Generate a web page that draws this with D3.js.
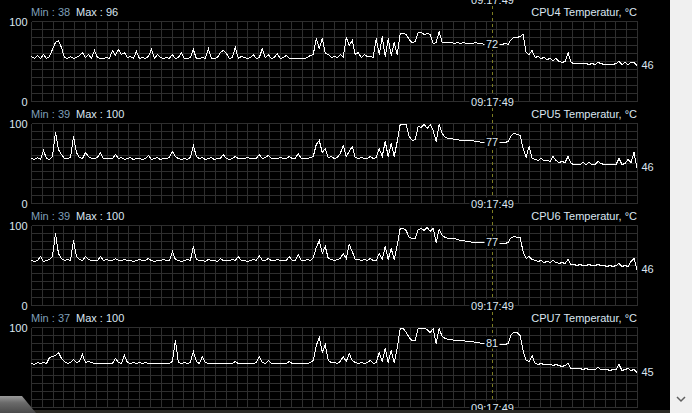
<!DOCTYPE html>
<html><head><meta charset="utf-8">
<script src="https://cdn.jsdelivr.net/npm/d3@7"></script>
<style>
html,body{margin:0;padding:0;background:#000;overflow:hidden}
svg{display:block}
text{font-family:"Liberation Sans",Arial,sans-serif;font-size:11px}
</style></head><body>
<svg id="c" width="692" height="413"></svg>
<script>
const seriesNames = ["CPU4 Temperatur, °C","CPU5 Temperatur, °C","CPU6 Temperatur, °C","CPU7 Temperatur, °C"];
const minValues = [38,39,39,37];
const maxValues = [96,100,100,100];
const cursorValues = [72,77,77,81];
const yTickValues = [0,100];
const timeLabel = "09:17:49";
const cursorIndex = 153.7;

const cpu4 = [
57,54,58,55,60,54,57,66,74,77,
68,56,55,57,55,56,58,62,56,60,
55,64,56,55,55,56,55,65,58,66,
60,62,56,57,55,63,55,56,55,57,
66,55,60,56,55,56,55,60,55,56,
62,55,55,56,66,55,55,56,55,67,
55,55,56,62,65,61,55,56,68,55,
57,56,55,56,60,55,56,67,56,60,
55,56,61,55,56,58,55,55,55,55,
55,55,56,58,60,79,67,79,61,59,
56,57,56,60,56,81,71,77,59,62,
56,60,57,57,56,80,60,82,57,80,
58,75,60,86,86,85,78,75,76,87,
87,84,86,84,73,74,88,74,74,74,
74,73,74,73,74,73,73,73,74,73,
73,72,72,72,72,72,72,72,73,72,
78,81,81,82,85,62,60,65,56,57,
54,56,53,55,52,54,51,50,51,62,
50,48,48,48,48,48,47,48,47,50,
48,47,47,47,47,48,51,47,49,47,
50,49,46];

const cpu5 = [
57,56,58,56,67,57,56,60,90,68,
62,57,57,58,85,64,58,57,64,60,
57,57,58,64,57,57,57,57,62,57,
58,56,57,58,56,57,57,56,57,61,
56,57,58,56,57,57,58,66,60,57,
56,57,56,58,73,60,57,58,56,57,
58,56,57,57,62,57,56,57,60,57,
57,57,58,57,57,57,62,57,58,61,
57,57,57,58,57,57,60,57,57,63,
57,57,57,58,60,75,79,64,70,58,
59,57,58,63,73,60,66,72,58,57,
58,57,57,59,57,58,70,59,78,60,
76,59,78,100,99,99,84,80,81,97,
96,99,94,99,92,78,99,88,83,82,
82,81,81,80,80,79,80,79,78,78,
77,77,77,77,77,77,77,77,77,78,
86,88,87,86,70,58,72,57,56,55,
57,54,55,53,60,54,52,53,52,60,
51,50,50,50,52,50,52,50,50,53,
51,50,50,50,50,50,57,50,51,56,
52,64,46];

const cpu6 = [
57,56,57,62,56,57,58,62,91,66,
60,57,58,57,82,62,58,57,62,58,
57,57,57,62,57,58,57,57,60,57,
57,58,57,57,56,57,58,57,57,60,
57,56,57,57,58,57,57,68,58,57,
56,57,58,57,74,58,57,57,56,58,
57,57,56,60,57,57,57,58,57,62,
57,57,56,57,58,57,63,57,57,60,
57,57,58,57,57,57,62,57,57,65,
57,57,58,57,61,73,82,66,74,59,
58,57,58,60,66,60,77,68,58,58,
57,58,57,60,57,57,66,58,74,58,
72,58,76,97,97,95,86,84,85,96,
97,94,98,93,97,80,96,88,86,85,
84,84,83,82,82,81,81,80,80,79,
79,79,79,79,79,78,78,78,78,79,
86,87,86,86,68,60,62,58,57,56,
57,55,56,54,57,54,53,54,53,58,
52,52,51,52,51,51,52,51,51,52,
51,51,50,51,50,51,53,50,51,50,
56,59,46];

const cpu7 = [
56,55,57,56,57,56,63,64,66,69,
62,58,56,57,61,57,58,67,57,58,
57,56,56,56,56,56,56,56,62,57,
56,66,57,56,57,56,57,56,57,56,
56,56,56,56,56,56,56,58,85,57,
56,57,56,57,71,58,56,64,57,56,
56,56,56,56,56,56,56,56,58,56,
56,56,56,56,56,57,65,57,56,59,
56,56,56,56,56,56,58,56,56,56,
56,56,56,57,60,78,88,70,80,60,
57,57,56,58,64,58,68,60,57,56,
57,56,57,59,56,57,70,58,74,57,
72,57,74,100,99,95,88,85,84,100,
100,100,98,94,99,81,100,89,87,86,
86,85,85,84,84,83,83,83,82,82,
81,81,81,81,81,81,80,80,80,81,
92,95,94,91,72,60,58,66,56,55,
56,54,55,54,53,55,53,52,53,56,
50,49,49,49,48,49,48,48,48,51,
48,48,48,47,48,48,55,47,48,49,
47,48,45];

const series = [cpu4, cpu5, cpu6, cpu7];

const W = 692, H = 413;
const left = 31.5, right = 637.5;
const firstTop = 21.5, panelStep = 102, panelH = 80;
const gridCols = 56;
const textCol = "#dbe6f1", minCol = "#7f9fb8", gridCol = "#2e2e2e";

const svg = d3.select("#c");
svg.append("rect").attr("width", W).attr("height", H).attr("fill", "#000");

const n = cpu4.length;
const x = d3.scaleLinear().domain([0, n - 1]).range([left, right - 0.5]);
const gx = d3.scaleLinear().domain([0, gridCols]).range([left, right]);
const cursorX = Math.round(x(cursorIndex)) + 0.5;

// grids
series.forEach((data, i) => {
  const top = firstTop + panelStep * i;
  const y = d3.scaleLinear().domain([0, 100]).range([top + panelH, top]);
  const g = svg.append("g");
  g.selectAll("line.h").data(y.ticks(10)).join("line")
    .attr("x1", left).attr("x2", right)
    .attr("y1", d => Math.round(y(d) - 0.5) + 0.5).attr("y2", d => Math.round(y(d) - 0.5) + 0.5)
    .attr("stroke", gridCol).attr("shape-rendering", "crispEdges");
  g.selectAll("line.v").data(d3.range(gridCols + 1)).join("line")
    .attr("x1", d => Math.round(gx(d) - 0.5) + 0.5).attr("x2", d => Math.round(gx(d) - 0.5) + 0.5)
    .attr("y1", top).attr("y2", top + panelH)
    .attr("stroke", gridCol).attr("shape-rendering", "crispEdges");
});

// cursor dashed line
svg.append("line").attr("x1", cursorX).attr("x2", cursorX).attr("y1", 0).attr("y2", H)
  .attr("stroke", "#7c7c22").attr("stroke-dasharray", "3,3").attr("shape-rendering", "crispEdges");

series.forEach((data, i) => {
  const top = firstTop + panelStep * i;
  const y = d3.scaleLinear().domain([0, 100]).range([top + panelH, top]);
  const g = svg.append("g");

  g.append("path").datum(data)
    .attr("d", d3.line().x((d, j) => x(j)).y(d => Math.round(y(d)) + 0.5))
    .attr("fill", "none").attr("stroke", "#fff").attr("stroke-width", 1)
    .attr("shape-rendering", "crispEdges");

  // y axis labels
  const ax = g.append("g").attr("transform", `translate(${left},0)`)
    .call(d3.axisLeft(y).tickValues(yTickValues).tickSize(0).tickPadding(4));
  ax.select(".domain").remove();
  ax.selectAll("text").attr("fill", textCol).style("font-family", '"Liberation Sans",Arial,sans-serif').style("font-size", "11px");

  // Min / Max
  g.append("text").attr("x", 31).attr("y", top - 6).attr("fill", minCol).text("Min : " + minValues[i]);
  g.append("text").attr("x", 76).attr("y", top - 6).attr("fill", textCol).text("Max : " + maxValues[i]);
  // title
  g.append("text").attr("x", right - 0.5).attr("y", top - 6).attr("text-anchor", "end").attr("fill", textCol).text(seriesNames[i]);

  // cursor value label
  const cv = data[Math.round(cursorIndex)];
  const cy = y(cv);
  g.append("rect").attr("x", cursorX - 8).attr("y", cy - 6).attr("width", 15).attr("height", 12).attr("fill", "#000");
  g.append("text").attr("x", cursorX - 0.5).attr("y", cy + 4).attr("text-anchor", "middle").attr("fill", textCol).text(cursorValues[i]);

  // end label
  const last = data[n - 1];
  g.append("text").attr("x", right + 4).attr("y", y(last) + 4).attr("fill", textCol).text(last);
});

// time labels (one per panel bottom, plus partial one from panel above)
d3.range(-1, 4).forEach(k => {
  const cyT = firstTop + panelStep * k + panelH;
  svg.append("rect").attr("x", cursorX - 23).attr("y", cyT - 6).attr("width", 45).attr("height", 12).attr("fill", "#000");
  svg.append("text").attr("x", cursorX).attr("y", cyT + 4).attr("text-anchor", "middle").attr("fill", textCol).text(timeLabel);
});

// scrollbar
svg.append("rect").attr("x", 670).attr("y", 0).attr("width", 22).attr("height", H).attr("fill", "#f0f0f0");
svg.append("polyline").attr("points", "677,397 681,401 685,397").attr("fill", "none").attr("stroke", "#606060").attr("stroke-width", 1.5);

// bottom strip and corner decoration
const gr = svg.append("defs").append("linearGradient").attr("id", "metal").attr("x1", 0).attr("y1", 0).attr("x2", 0).attr("y2", 1);
gr.append("stop").attr("offset", "0").attr("stop-color", "#9a9a9a");
gr.append("stop").attr("offset", "0.4").attr("stop-color", "#6a6a6a");
gr.append("stop").attr("offset", "1").attr("stop-color", "#4a4a4a");
svg.append("rect").attr("x", 30).attr("y", 410).attr("width", 640).attr("height", 3).attr("fill", "#2c2a24");
svg.append("polygon").attr("points", "0,396 22,396 36,413 0,413").attr("fill", "url(#metal)");
</script>
</body></html>
